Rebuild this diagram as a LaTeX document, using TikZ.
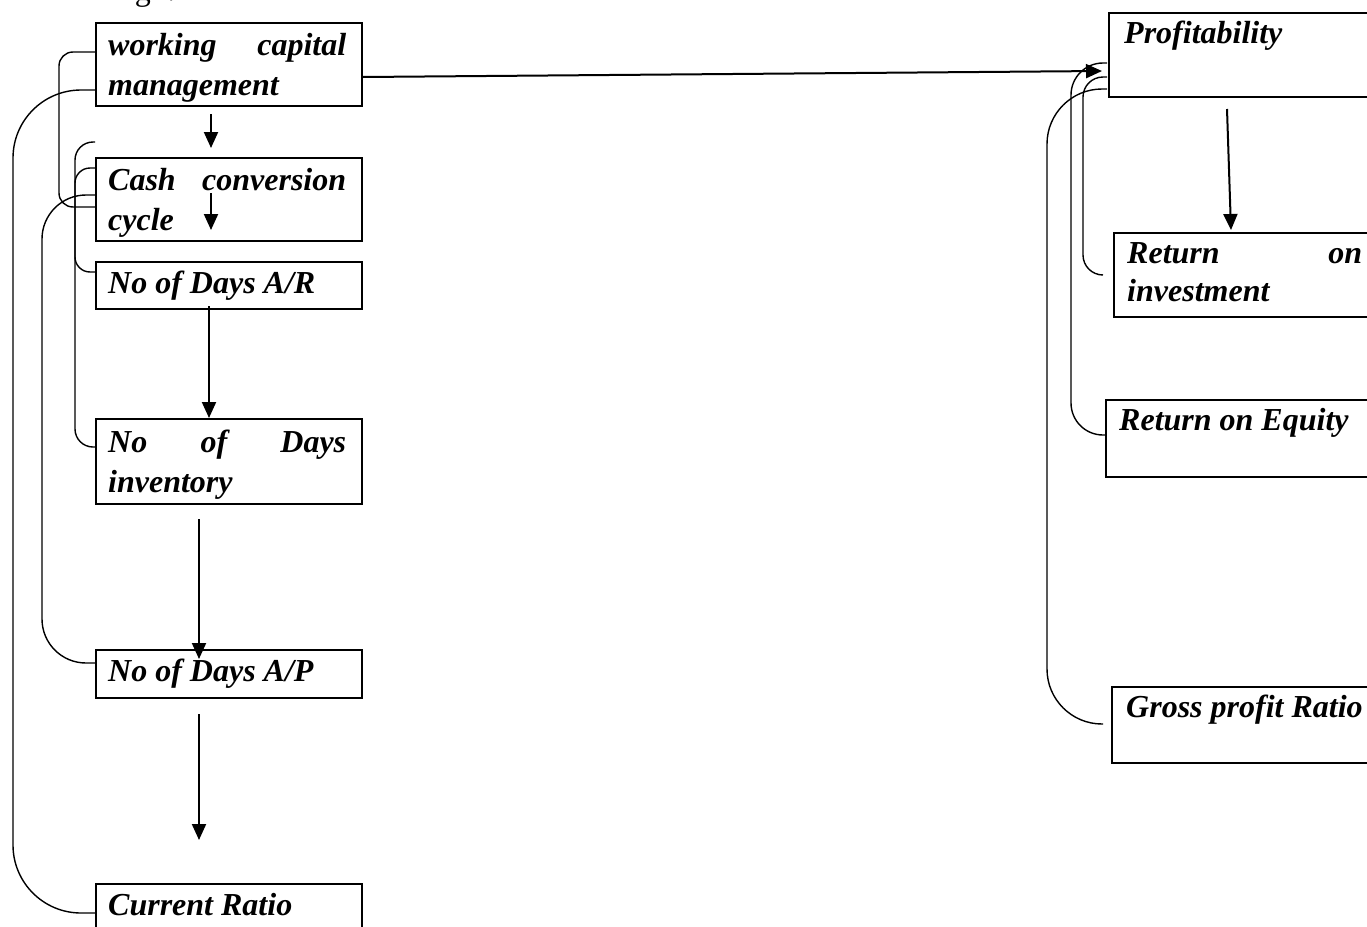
\documentclass[tikz,border=0pt]{standalone}
\usepackage{fontspec}
\setmainfont{Liberation Serif}
\usetikzlibrary{arrows.meta,calc}
\begin{document}
\begin{tikzpicture}[x=1pt,y=-1pt,
  box/.style={draw, line width=2pt, anchor=north west, inner sep=0pt, minimum width=266pt},
  rbox/.style={box, minimum width=275pt},
  txt/.style={anchor=base west, inner sep=0pt, font=\fontsize{32}{40}\selectfont\bfseries\itshape},
  ptxt/.style={txt, text width=238pt, align=left},
  rptxt/.style={anchor=base west, inner sep=0pt, font=\fontsize{32}{38}\selectfont\bfseries\itshape, text width=235pt, align=left},
  arr/.style={line width=2pt, -{Triangle[width=14pt,length=16pt]}},
  link/.style={line width=1.4pt},
]
\fill[white] (0,0) rectangle (1367,926);
\useasboundingbox (0,0) rectangle (1367,926);

% caption (cut at the top edge, as in the reference)
\node[anchor=base west, inner sep=0pt, font=\fontsize{32}{40}\selectfont] (fig) at (108,1) {Fig1:};

% left column boxes
\node[box, minimum height=83pt] (wcm)  at (95,22)  {};
\node[box, minimum height=83pt] (ccc)  at (95,157) {};
\node[box, minimum height=47pt] (dar)  at (95,261) {};
\node[box, minimum height=85pt] (dinv) at (95,418) {};
\node[box, minimum height=48pt] (dap)  at (95,649) {};
\node[box, minimum height=70pt] (cr)   at (95,883) {};

% right column boxes
\node[rbox, minimum height=84pt] (prof) at (1108,12)  {};
\node[rbox, minimum height=84pt] (roi)  at (1113,232) {};
\node[rbox, minimum height=77pt] (roe)  at (1105,399) {};
\node[rbox, minimum height=76pt] (gpr)  at (1111,686) {};

% texts
\node[ptxt] (twcm)  at (108,55)  {working\hfill capital\\management};
\node[ptxt] (tccc)  at (108,190) {Cash\hfill conversion\\cycle};
\node[txt]  (tdar)  at (108,293) {No of Days A/R};
\node[ptxt] (tdinv) at (108,452) {No\hfill of\hfill Days\\inventory};
\node[txt]  (tdap)  at (108,681) {No of Days A/P};
\node[txt]  (tcr)   at (108,915) {Current Ratio};
\node[txt]  (tprof) at (1124,43)  {Profitability};
\node[rptxt] (troi) at (1127,263) {Return\hfill on\\investment};
\node[txt]  (troe)  at (1119,430) {Return on Equity};
\node[txt]  (tgpr)  at (1126,717) {Gross profit Ratio};

% arrows
\draw[arr] ($(wcm.south west)+(116,7)$) -- ($(ccc.north west)+(116,-9)$);
\draw[arr] ($(ccc.north west)+(116,36)$) -- ($(ccc.north west)+(116,73)$);
\draw[arr] ($(dar.south west)+(114,-4)$) -- ($(dinv.north west)+(114,0)$);
\draw[arr] ($(dinv.south west)+(104,14)$) -- ($(dap.north west)+(104,10)$);
\draw[arr] ($(dap.south west)+(104,15)$) -- ($(cr.north west)+(104,-43)$);
\draw[arr] ($(wcm.north east)+(0,55)$) -- ($(prof.north west)+(-6,59)$);
\draw[arr] ($(prof.south west)+(119,11)$) -- ($(roi.north west)+(118,-2)$);

% bracket links, left
\coordinate (cfree) at (95,142);
\draw[link, rounded corners=14pt] ($(wcm.north west)+(0,30)$) -| (59,130) |- ($(ccc.north west)+(0,50)$);
\draw[link, rounded corners=68pt] ($(wcm.north west)+(0,68)$) -| (13,500) |- ($(cr.north west)+(0,30)$);
\draw[link, rounded corners=18pt] (cfree) -| (75,300) |- ($(dinv.north west)+(0,29)$);
\draw[link, rounded corners=15pt] ($(ccc.north west)+(0,11)$) -| (75,220) |- ($(dar.north west)+(0,11)$);
\draw[link, rounded corners=44pt] ($(ccc.north west)+(0,38)$) -| (42,400) |- ($(dap.north west)+(0,14)$);

% bracket links, right
\draw[link, rounded corners=32pt] ($(prof.north west)+(-1,51)$) -| (1071,250) |- ($(roe.north west)+(0,36)$);
\draw[link, rounded corners=20pt] ($(prof.north west)+(-1,65)$) -| (1083,170) |- ($(roi.north west)+(-10,43)$);
\draw[link, rounded corners=55pt] ($(prof.north west)+(-1,77)$) -| (1047,400) |- ($(gpr.north west)+(-8,38)$);
\end{tikzpicture}
\end{document}
